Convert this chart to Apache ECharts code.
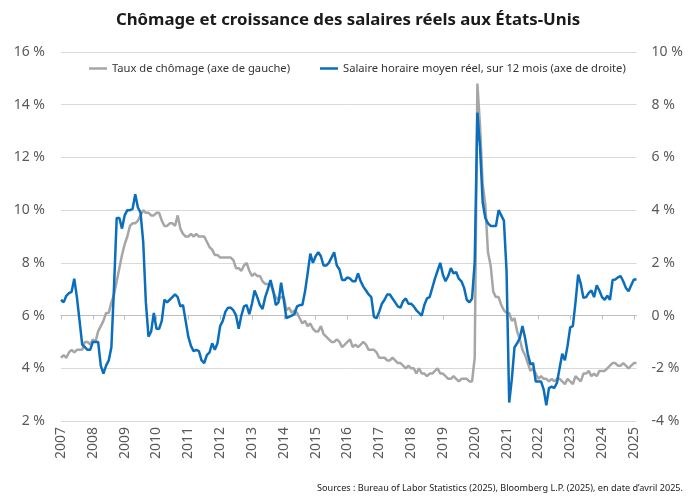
<!DOCTYPE html>
<html>
<head>
    <meta charset="utf-8">
    <title>Chômage et salaires réels</title>
    <script src="https://cdn.jsdelivr.net/npm/echarts@6/dist/echarts.min.js"></script>
    <style>
        html, body { margin: 0; padding: 0; background: #fff; }
    </style>
</head>
<body>

<div id="main" style="width: 696px;height:498px;"></div>

<script type="text/javascript">

    // premier mois de la série : mars 2007, dernier : avril 2025
    var debutAnnee = 2007;
    var debutMois = 3;

    var annees = ['2007','2008','2009','2010','2011','2012','2013','2014','2015','2016',
                  '2017','2018','2019','2020','2021','2022','2023','2024','2025'];

    // taux de chômage, %, axe de gauche (mensuel)
    var chomage = [
        4.4,4.5,4.4,4.6,4.7,4.6,4.7,4.7,4.7,5.0,
        5.0,4.9,5.1,5.0,5.4,5.6,5.8,6.1,6.1,6.5,6.8,7.3,
        7.8,8.3,8.7,9.0,9.4,9.5,9.5,9.6,9.8,10.0,9.9,9.9,
        9.8,9.8,9.9,9.9,9.6,9.4,9.4,9.5,9.5,9.4,9.8,9.3,
        9.1,9.0,9.0,9.1,9.0,9.1,9.0,9.0,9.0,8.8,8.6,8.5,
        8.3,8.3,8.2,8.2,8.2,8.2,8.2,8.1,7.8,7.8,7.7,7.9,
        8.0,7.7,7.5,7.6,7.5,7.5,7.3,7.2,7.2,7.2,6.9,6.7,
        6.6,6.7,6.7,6.2,6.3,6.1,6.2,6.1,5.9,5.7,5.8,5.6,
        5.7,5.5,5.4,5.4,5.6,5.3,5.2,5.1,5.0,5.0,5.1,5.0,
        4.8,4.9,5.0,5.1,4.8,4.9,4.8,4.9,5.0,4.9,4.7,4.7,
        4.7,4.6,4.4,4.4,4.4,4.3,4.3,4.4,4.3,4.2,4.2,4.1,
        4.0,4.1,4.0,4.0,3.8,4.0,3.8,3.8,3.7,3.8,3.8,3.9,
        4.0,3.8,3.8,3.7,3.6,3.6,3.7,3.6,3.5,3.6,3.6,3.6,
        3.5,3.5,4.4,14.8,13.2,11.0,10.2,8.4,7.9,6.9,6.7,6.7,
        6.4,6.2,6.1,6.1,5.8,5.9,5.4,5.1,4.7,4.5,4.2,3.9,
        4.0,3.8,3.6,3.7,3.6,3.6,3.5,3.6,3.5,3.6,3.6,3.5,
        3.4,3.6,3.5,3.4,3.7,3.6,3.5,3.8,3.8,3.9,3.7,3.8,
        3.7,3.9,3.9,3.9,4.0,4.1,4.2,4.2,4.1,4.1,4.2,4.1,
        4.0,4.1,4.2,4.2
    ];

    // salaire horaire moyen réel, variation sur 12 mois, %, axe de droite
    var salaire = [
        0.6,0.5,0.75,0.85,0.9,1.4,0.7,-0.2,-1.1,-1.2,
        -1.3,-1.3,-1.0,-1.0,-1.0,-1.9,-2.2,-1.9,-1.7,-1.2,1.1,3.7,
        3.7,3.3,3.8,4.0,4.0,4.05,4.6,4.1,3.9,2.8,0.5,-0.8,
        -0.6,0.1,-0.5,-0.5,-0.2,0.6,0.5,0.6,0.7,0.8,0.7,0.35,
        0.4,-0.2,-0.8,-1.15,-1.35,-1.3,-1.35,-1.7,-1.8,-1.5,-1.4,-1.05,
        -1.3,-1.05,-0.4,-0.2,0.15,0.3,0.3,0.2,0.0,-0.5,0.0,0.35,
        0.4,0.05,0.45,0.95,0.7,0.4,0.25,0.7,1.0,1.35,0.95,0.4,
        0.5,1.25,0.6,-0.1,-0.05,0.0,0.05,0.35,0.4,0.4,0.9,1.6,
        2.35,2.0,2.25,2.4,2.25,1.9,1.9,2.0,2.2,2.4,1.9,1.75,
        1.35,1.35,1.45,1.4,1.3,1.3,1.6,1.3,1.1,0.95,0.8,0.7,
        -0.05,-0.1,0.15,0.45,0.6,0.8,0.8,0.65,0.5,0.35,0.3,0.55,
        0.65,0.45,0.45,0.35,0.2,0.1,0.0,0.4,0.65,0.7,1.05,1.4,
        1.7,2.0,1.55,1.3,1.5,1.8,1.6,1.65,1.4,1.3,1.05,0.6,
        0.5,0.65,2.05,7.7,6.4,4.3,3.7,3.5,3.4,3.4,3.4,4.0,
        3.8,3.6,1.7,-3.3,-2.4,-1.2,-1.05,-0.85,-0.4,-0.85,-1.45,-1.85,
        -1.8,-2.5,-2.5,-2.5,-2.8,-3.4,-2.75,-2.7,-2.75,-2.55,-2.0,-1.45,
        -1.7,-1.15,-0.45,-0.4,0.5,1.55,1.2,0.67,0.7,0.86,0.95,0.7,
        1.15,0.95,0.7,0.6,0.75,0.6,1.35,1.37,1.45,1.5,1.3,1.05,
        0.92,1.15,1.37,1.37
    ];

    // catégories mensuelles (aaaa-mm)
    var mois = [];
    for (var i = 0; i < chomage.length; i++) {
        var m = debutMois - 1 + i;
        var a = debutAnnee + Math.floor(m / 12);
        var mm = (m % 12) + 1;
        mois.push(a + '-' + (mm < 10 ? '0' + mm : mm));
    }

    var police = 'Noto Sans';
    var gris = '#a6a6a6';
    var bleu = '#0a6ebd';

    var myChart = echarts.init(document.getElementById('main'));

    myChart.setOption({
        animation: false,
        backgroundColor: '#fff',
        textStyle: { fontFamily: police },
        title: {
            text: 'Chômage et croissance des salaires réels aux États-Unis',
            left: 'center',
            top: 7,
            textStyle: { fontFamily: police, fontSize: 16.8, fontWeight: 'bold', color: '#1a1a1a' }
        },
        legend: {
            top: 58,
            left: 84,
            icon: 'rect',
            itemWidth: 18,
            itemHeight: 2.5,
            itemGap: 30,
            textStyle: { fontFamily: police, fontSize: 11.2, color: '#333' },
            data: ['Taux de chômage (axe de gauche)', 'Salaire horaire moyen réel, sur 12 mois (axe de droite)']
        },
        grid: {
            left: 61,
            right: 59.5,
            top: 52,
            bottom: 77,
            containLabel: false
        },
        xAxis: {
            type: 'category',
            boundaryGap: false,
            data: mois,
            axisLine: { lineStyle: { color: '#bfbfbf', width: 1 } },
            axisTick: {
                length: 4,
                lineStyle: { color: '#bfbfbf' },
                interval: function (index) { return index % 12 === 0; }
            },
            axisLabel: {
                rotate: 90,
                margin: 6,
                fontSize: 14,
                color: '#595959',
                interval: function (index) { return index % 12 === 0; },
                formatter: function (value) { return annees[annees.indexOf(value.slice(0, 4))]; }
            },
            splitLine: { show: false }
        },
        yAxis: [
            {
                type: 'value',
                min: 2,
                max: 16,
                interval: 2,
                axisLine: { show: false },
                axisTick: { show: false },
                axisLabel: { formatter: '{value} %', fontSize: 14, color: '#595959', margin: 16 },
                splitLine: { lineStyle: { color: '#d9d9d9', width: 1 } }
            },
            {
                type: 'value',
                min: -4,
                max: 10,
                interval: 2,
                axisLine: { show: false },
                axisTick: { show: false },
                axisLabel: { formatter: '{value} %', fontSize: 14, color: '#595959', margin: 15 },
                splitLine: { show: false }
            }
        ],
        series: [
            {
                name: 'Taux de chômage (axe de gauche)',
                type: 'line',
                yAxisIndex: 0,
                data: chomage,
                showSymbol: false,
                symbol: 'none',
                color: gris,
                lineStyle: { color: gris, width: 2.5 }
            },
            {
                name: 'Salaire horaire moyen réel, sur 12 mois (axe de droite)',
                type: 'line',
                yAxisIndex: 1,
                data: salaire,
                showSymbol: false,
                symbol: 'none',
                color: bleu,
                lineStyle: { color: bleu, width: 2.5 }
            }
        ],
        graphic: [
            {
                type: 'text',
                right: 13,
                bottom: 5,
                style: {
                    text: 'Sources : Bureau of Labor Statistics (2025), Bloomberg L.P. (2025), en date d\u2019avril 2025.',
                    fontFamily: police,
                    fontSize: 9.1,
                    fill: '#1a1a1a'
                }
            }
        ]
    });

</script>
</body>
</html>
